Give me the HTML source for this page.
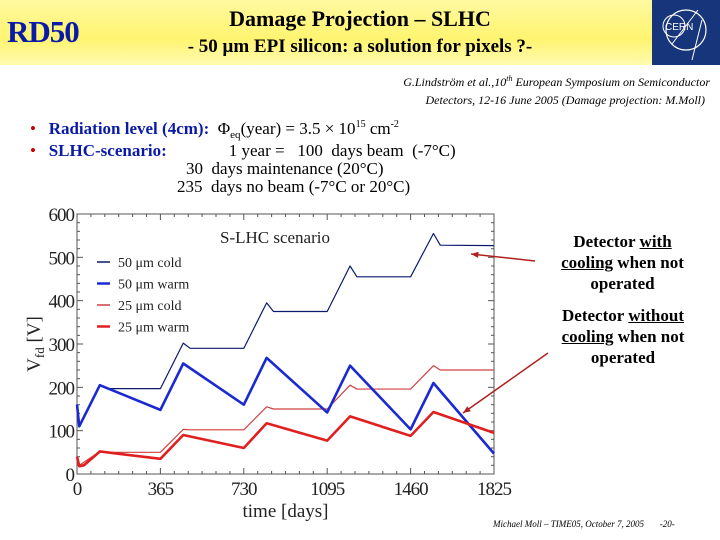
<!DOCTYPE html>
<html><head><meta charset="utf-8">
<style>
body{margin:0;width:720px;height:540px;overflow:hidden;background:#fff;font-family:"Liberation Serif",serif;position:relative}
.abs{position:absolute}
#band{left:0;top:0;width:720px;height:65px;background:linear-gradient(to bottom,#fff9a0,#fff470 60%,#fffbb0)}
.sb{font-size:11px;position:relative;top:4px;line-height:0}
.sp{font-size:10px;position:relative;top:-7px;line-height:0}
</style></head><body>
<div class="abs" id="band"></div>
<div class="abs" style="left:7px;top:14px;font:bold 31px 'Liberation Serif',serif;color:#0a1aa8;letter-spacing:-1px">RD50</div>
<div class="abs" style="left:110px;top:6px;width:500px;text-align:center;font:bold 22px 'Liberation Serif',serif;color:#000">Damage Projection – SLHC</div>
<div class="abs" style="left:110px;top:36px;width:500px;text-align:center;font:bold 19px 'Liberation Serif',serif;color:#000">- 50 μm EPI silicon: a solution for pixels ?-</div>
<div class="abs" style="left:652px;top:0;width:68px;height:65px;background:#17357a">
<svg width="68" height="65"><circle cx="34" cy="30" r="20" fill="none" stroke="#fff" stroke-width="1.2"/><circle cx="22" cy="26" r="11" fill="none" stroke="#fff" stroke-width="1"/><path d="M20 44 L46 10 M40 60 L50 20" stroke="#fff" stroke-width="1" fill="none"/><text x="13" y="30" fill="#fff" font-family="Liberation Sans,sans-serif" font-size="10">CERN</text></svg></div>
<div class="abs" style="left:300px;top:70px;width:410px;text-align:right;font:italic 12px 'Liberation Serif',serif;line-height:18px">G.Lindström et al.,10<sup style="font-size:8px">th</sup> European Symposium on Semiconductor<br><span style="padding-right:5px">Detectors, 12-16 June 2005 (Damage projection: M.Moll)</span></div>
<div class="abs" style="left:30px;top:120px;font:17px 'Liberation Serif',serif;line-height:18px;color:#000">
<div style="margin-bottom:4px"><span style="color:#c00">•</span>&nbsp;&nbsp;&nbsp;<b style="color:#0a1aa8">Radiation level (4cm):</b>&nbsp; Φ<span class="sb">eq</span>(year) = 3.5 × 10<span class="sp">15</span> cm<span class="sp">-2</span></div>
<div><span style="color:#c00">•</span>&nbsp;&nbsp;&nbsp;<b style="color:#0a1aa8">SLHC-scenario:</b><span style="padding-left:62px">1 year =&nbsp;&nbsp; 100&nbsp; days beam&nbsp; (-7°C)</span></div>
<div style="padding-left:156px">30&nbsp; days maintenance (20°C)</div>
<div style="padding-left:147px">235&nbsp; days no beam (-7°C or 20°C)</div>
</div>
<div class="abs" style="left:530px;top:231px;width:185px;text-align:center;font:bold 17px 'Liberation Serif',serif;line-height:21px">Detector <u>with</u><br><u>cooling</u> when not<br>operated</div>
<div class="abs" style="left:538px;top:305px;width:170px;text-align:center;font:bold 17px 'Liberation Serif',serif;line-height:21px">Detector <u>without</u><br><u>cooling</u> when not<br>operated</div>
<div class="abs" style="left:493px;top:519px;font:italic 9px 'Liberation Serif',serif">Michael Moll – TIME05, October 7, 2005 &nbsp;&nbsp;&nbsp;&nbsp;&nbsp; -20-</div>
<svg class="abs" id="chart" style="left:0;top:0" width="720" height="540"></svg>
<script>
const xTicks=[0,365,730,1095,1460,1825];
const yTicks=[0,100,200,300,400,500,600];
const cold50Days=[0,10,100,130,365,465,495,730,830,860,1095,1195,1225,1460,1560,1590,1825];
const cold50Vals=[160,110,205,197,197,302,290,290,395,375,375,480,455,455,555,528,527];
const warm50Days=[0,10,100,365,465,730,830,1095,1195,1460,1560,1825];
const warm50Vals=[160,110,205,148,255,160,268,142,250,103,210,47];
const cold25Days=[0,10,100,130,365,465,495,730,830,860,1095,1195,1225,1460,1560,1590,1825];
const cold25Vals=[40,20,52,50,50,103,102,102,155,150,150,205,196,196,250,240,240];
const warm25Days=[0,10,30,100,365,465,730,830,1095,1195,1460,1560,1825];
const warm25Vals=[40,18,20,52,35,90,60,117,77,133,88,143,95];
const NS="http://www.w3.org/2000/svg";
const svg=document.getElementById('chart');
const X0=77,X1=494,Y0=474,Y1=214;
const sx=d=>X0+(d-0)/1825*(X1-X0);
const sy=v=>Y0-(v/600)*(Y0-Y1);
function mk(t,a,p){const e=document.createElementNS(NS,t);for(const k in a)e.setAttribute(k,a[k]);(p||svg).appendChild(e);return e;}
const frame=mk('rect',{x:X0,y:Y1,width:X1-X0,height:Y0-Y1,fill:'none',stroke:'#555','stroke-width':1});


for(let i=0;i<=1825;i+=365/6){const x=sx(i);mk('line',{x1:x,x2:x,y1:Y0,y2:Y0-(Math.round(i)%365===0?6:3),stroke:'#555'});mk('line',{x1:x,x2:x,y1:Y1,y2:Y1+(Math.round(i)%365===0?6:3),stroke:'#555'});}
for(let v=0;v<=600;v+=20){const y=sy(v);const L=v%100===0?6:3;mk('line',{x1:X0,x2:X0+L,y1:y,y2:y,stroke:'#555'});mk('line',{x1:X1,x2:X1-L,y1:y,y2:y,stroke:'#555'});}
xTicks.forEach(d=>{const t=mk('text',{x:sx(d),y:Y0+21,'text-anchor':'middle','font-size':19,'font-family':'Liberation Serif,serif',fill:'#222','letter-spacing':'-1'});t.textContent=d;

});
yTicks.forEach(v=>{const t=mk('text',{x:X0-3,y:sy(v)+7,'text-anchor':'end','font-size':19,'font-family':'Liberation Serif,serif',fill:'#222','letter-spacing':'-1'});t.textContent=v;

});
const xt=mk('text',{x:(X0+X1)/2,y:517,'text-anchor':'middle','font-size':19,'font-family':'Liberation Serif,serif',fill:'#222'});xt.textContent='time [days]';


const yt=mk('text',{transform:'translate(40,344) rotate(-90)','text-anchor':'middle','font-size':19,'font-family':'Liberation Serif,serif',fill:'#222'});yt.innerHTML='V<tspan font-size="13" dy="4">fd</tspan><tspan dy="-4"> [V]</tspan>';


const ct=mk('text',{x:275,y:243,'text-anchor':'middle','font-size':17,'font-family':'Liberation Serif,serif',fill:'#222'});ct.textContent='S-LHC scenario';


function series(days,vals,color,w,name){const pts=days.map((d,i)=>sx(d)+','+sy(vals[i])).join(' ');const p=mk('polyline',{points:pts,fill:'none',stroke:color,'stroke-width':w,'stroke-linejoin':'round'});

}
series(cold50Days,cold50Vals,'#0a1a6e',1.2,'series-50um-cold');
series(cold25Days,cold25Vals,'#d04040',1.2,'series-25um-cold');
series(warm50Days,warm50Vals,'#1a2ad0',2.6,'series-50um-warm');
series(warm25Days,warm25Vals,'#e02020',2.6,'series-25um-warm');
const leg=[['50 μm cold','#0a1a6e',1.5],['50 μm warm','#1a2ad0',2.5],['25 μm cold','#d04040',1.5],['25 μm warm','#e02020',2.5]];
leg.forEach((l,i)=>{const y=262+i*21.5;mk('line',{x1:97,x2:110,y1:y,y2:y,stroke:l[1],'stroke-width':l[2]});const t=mk('text',{x:118,y:y+5,'font-size':14,'font-family':'Liberation Serif,serif',fill:'#222'});t.textContent=l[0];

});
function arrow(x1,y1,x2,y2,name){const g=mk('g',{});

mk('line',{x1,y1,x2,y2,stroke:'#b02020','stroke-width':1.5},g);const a=Math.atan2(y2-y1,x2-x1);const s=8;mk('polygon',{points:`${x2},${y2} ${x2-s*Math.cos(a-0.4)},${y2-s*Math.sin(a-0.4)} ${x2-s*Math.cos(a+0.4)},${y2-s*Math.sin(a+0.4)}`,fill:'#b02020'},g);}
arrow(535,261,471,254,'arrow-with-cooling');
arrow(548,353,463,413,'arrow-without-cooling');
</script>
</body></html>
